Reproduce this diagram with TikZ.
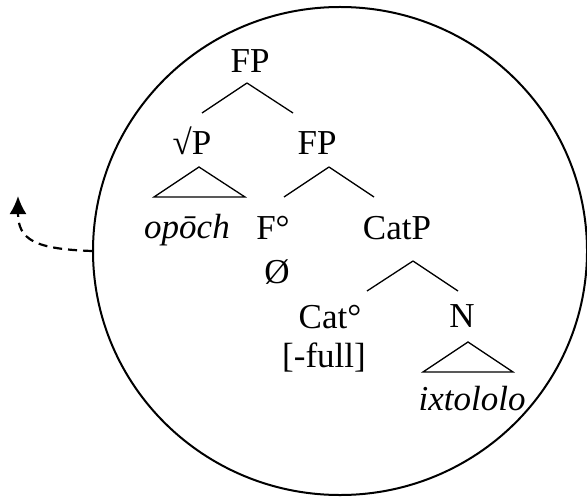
\documentclass[tikz,border=0pt]{standalone}
\usepackage{fontspec}
\setmainfont{Liberation Serif}
\usepackage{tikz}
\usetikzlibrary{shapes.geometric,arrows.meta,positioning}

\begin{document}
\begin{tikzpicture}[
    x=0.5pt, y=-0.5pt,
    label/.style={inner sep=0pt, anchor=base, font=\fontsize{17.5}{21}\selectfont},
    branch/.style={line width=0.65pt},
    bubble/.style={ellipse, draw, line width=1pt, minimum width=247pt, minimum height=244pt}
]
\useasboundingbox (0,0) rectangle (587,497);

\node[bubble] (B) at (340,251) {};

\node[label] (FP1) at (250,73) {FP};
\node[label] (VP) at (192,155) {√P};
\node[label] (FP2) at (317,155) {FP};
\node[label] (Opoch) at (187,238) {\itshape opōch};
\node[label] (F) at (273,239) {F°};
\node[label] (CatP) at (397,239) {CatP};
\node[label] (Null) at (277,283) {Ø};
\node[label] (Cat) at (330,328) {Cat°};
\node[label] (Full) at (324,367) {[-full]};
\node[label] (N) at (462,327) {N};
\node[label] (Ixt) at (472,410) {\itshape ixtololo};

\draw[branch] (FP1.base) ++(-3,10) -- +(-45,30) +(0,0) -- +(46,30);
\draw[branch] (VP.base) ++(7,12) -- ++(-45,30) -- ++(91,0) -- cycle;
\draw[branch] (FP2.base) ++(12,12) -- +(-45,30) +(0,0) -- +(45,30);
\draw[branch] (CatP.base) ++(16,22) -- +(-46,30) +(0,0) -- +(45,30);
\draw[branch] (N.base) ++(6,15) -- ++(-45,30) -- ++(90,0) -- cycle;

\draw[line width=1.1pt, dash pattern=on 4.5pt off 3pt, -{Latex[length=9pt,width=8.5pt]}]
    (B.west) .. controls (35,249) and (18,240) .. (18,196);
\end{tikzpicture}
\end{document}
